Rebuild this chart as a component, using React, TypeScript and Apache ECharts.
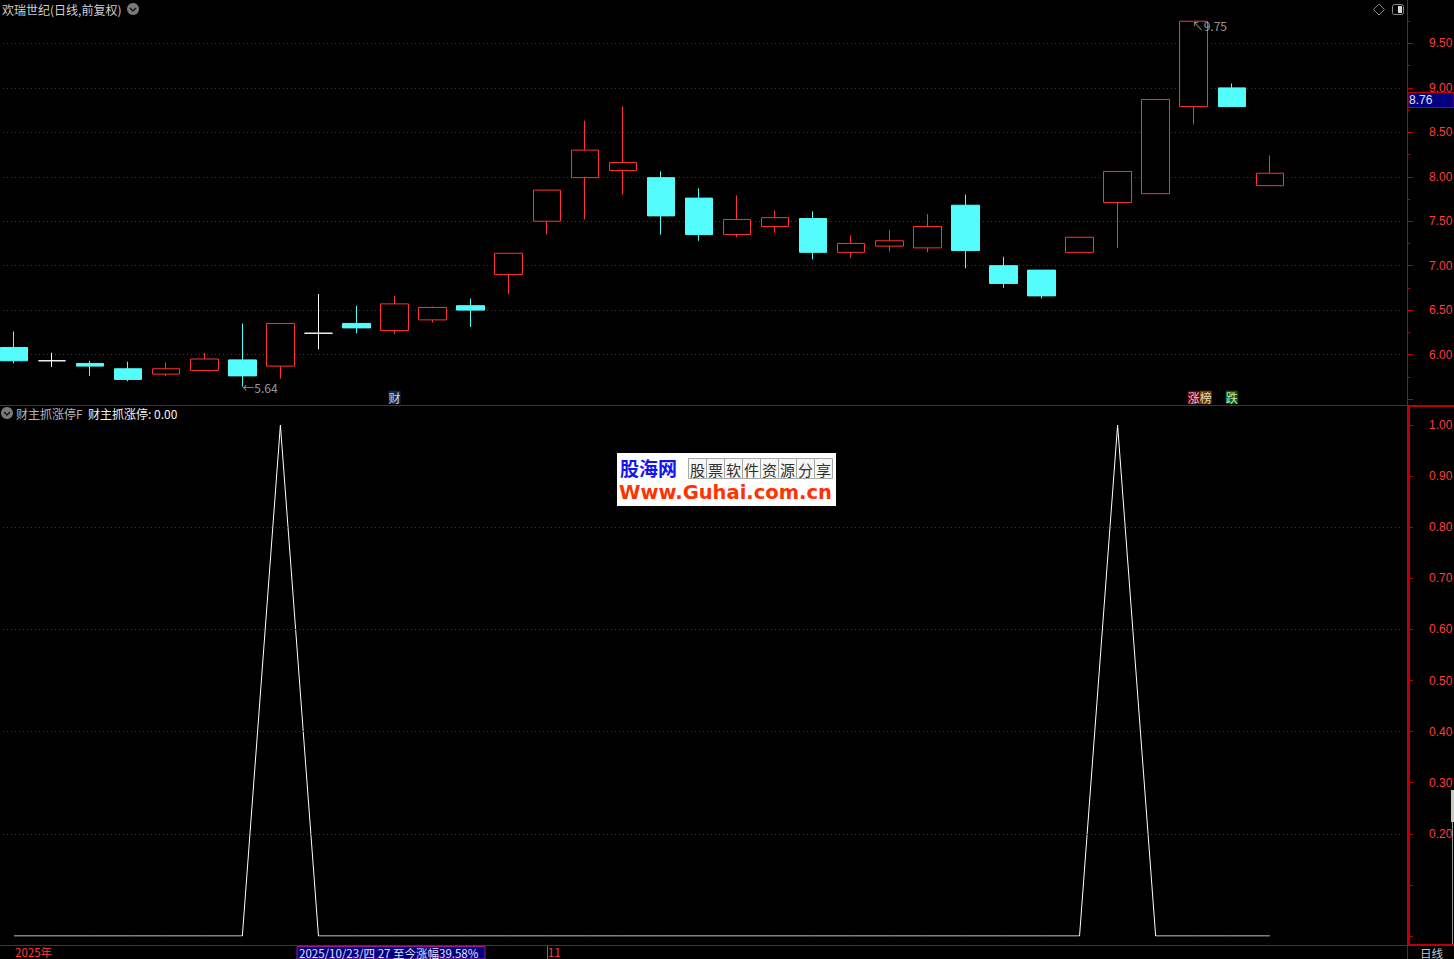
import React, { useEffect, useRef } from 'react';
import * as echarts from 'echarts';

// ---------- data ----------
const dates = [
  '2025-10-14', '2025-10-15', '2025-10-16', '2025-10-17', '2025-10-20', '2025-10-21', '2025-10-22',
  '2025-10-23', '2025-10-24', '2025-10-27', '2025-10-28', '2025-10-29', '2025-10-30', '2025-10-31',
  '2025-11-03', '2025-11-04', '2025-11-05', '2025-11-06', '2025-11-07', '2025-11-10', '2025-11-11',
  '2025-11-12', '2025-11-13', '2025-11-14', '2025-11-17', '2025-11-18', '2025-11-19', '2025-11-20',
  '2025-11-21', '2025-11-24', '2025-11-25', '2025-11-26', '2025-11-27', '2025-11-28',
];
const padSlots = ['pad-1', 'pad-2', 'pad-3'];
const opens = [6.08, 5.93, 5.90, 5.84, 5.78, 5.82, 5.94, 5.87, 6.24, 6.35, 6.27, 6.39, 6.55, 6.90, 7.50, 7.99, 8.07, 7.99, 7.76, 7.35, 7.44, 7.53, 7.15, 7.22, 7.20, 7.68, 7.00, 6.95, 7.15, 7.71, 7.81, 8.79, 9.00, 7.90];
const closes = [5.93, 5.93, 5.87, 5.72, 5.84, 5.95, 5.76, 6.35, 6.24, 6.30, 6.57, 6.53, 6.50, 7.14, 7.85, 8.30, 8.16, 7.56, 7.35, 7.52, 7.54, 7.15, 7.25, 7.28, 7.44, 7.17, 6.80, 6.66, 7.32, 8.06, 8.87, 9.75, 8.79, 8.04];
const lows = [5.90, 5.86, 5.76, 5.70, 5.76, 5.81, 5.64, 5.73, 6.06, 6.24, 6.23, 6.36, 6.31, 6.68, 7.35, 7.52, 7.80, 7.35, 7.28, 7.32, 7.37, 7.07, 7.09, 7.16, 7.15, 6.97, 6.75, 6.63, 7.15, 7.20, 7.81, 8.59, 8.79, 7.90];
const highs = [6.26, 6.02, 5.93, 5.92, 5.91, 6.02, 6.35, 6.35, 6.68, 6.55, 6.66, 6.54, 6.63, 7.14, 7.85, 8.63, 8.79, 8.06, 7.87, 7.79, 7.62, 7.61, 7.34, 7.40, 7.58, 7.80, 7.10, 6.95, 7.32, 8.06, 8.87, 9.75, 9.05, 8.24];
const dojiIdx = [1, 8];
const signalValues = [0, 0, 0, 0, 0, 0, 0, 1, 0, 0, 0, 0, 0, 0, 0, 0, 0, 0, 0, 0, 0, 0, 0, 0, 0, 0, 0, 0, 0, 1, 0, 0, 0, 0];
const signalGridLevels = [0.2, 0.4, 0.6, 0.8];
const markerIdx = [10, 31, 32];
const markerTexts = ['{cai|财}', '{zhang|涨}{bang|榜}', '{die|跌}'];
const extremeIdx = [6, 31];
const extremeText = ['←', '↖'];
const monthLabels: Record<number, string> = { 0: '2025年', 14: '11' };
const monthStartIdx = 14;
const crossPrice = '8.76';
const crossDateText = '2025/10/23/四 27 至今涨幅39.58%';
const upperTitle = '欢瑞世纪(日线,前复权)';
const lowerTitleA = '财主抓涨停F';
const lowerTitleB = '财主抓涨停: 0.00';
const logoChars = ['股', '票', '软', '件', '资', '源', '分', '享'];

// ---------- styles ----------
const CYAN = '#54fcfc';
const RED = '#ff3232';
const AXIS_RED = '#c00000';
const GRID_RED = '#c80000';
const LABEL_RED = '#ff3c3c';
const FONT = '"Noto Sans CJK SC", "Liberation Sans", sans-serif';
const NUMFONT = '"Liberation Sans", "Noto Sans CJK SC", sans-serif';
const MARKER_LEVEL = 5.52;

function buildOption() {
  const categories = [...dates, ...padSlots];
  const candleData = dates.map((_, i) => {
    const v = [opens[i], closes[i], lows[i], highs[i]];
    if (dojiIdx.includes(i)) {
      return { value: v, itemStyle: { color: '#ffffff', color0: '#ffffff', borderColor: '#ffffff', borderColor0: '#ffffff' } };
    }
    return v;
  });

  const markerData = markerIdx.map((idx, k) => ({
    value: [idx, MARKER_LEVEL],
    label: { formatter: markerTexts[k], offset: k === 1 ? [6, 0] : [0, 0] },
  }));

  const extremeData = extremeIdx.map((idx, k) => {
    const v = k === 0 ? lows[idx] : highs[idx];
    return {
      value: [idx, v],
      label: { formatter: extremeText[k] + v.toFixed(2), offset: k === 0 ? [0, 1] : [-2, 4] },
    };
  });

  const richBox = (bg: string) => ({
    backgroundColor: bg, color: '#ffffff', fontSize: 12, fontFamily: FONT, lineHeight: 13, height: 13, padding: [0, 0, 0, 0],
  });

  const graphic: any[] = [];
  // frame lines
  graphic.push({ type: 'line', shape: { x1: 0, y1: 405.5, x2: 1454, y2: 405.5 }, style: { stroke: AXIS_RED, lineWidth: 1 }, silent: true });
  graphic.push({ type: 'line', shape: { x1: 1407.5, y1: 0, x2: 1407.5, y2: 959 }, style: { stroke: AXIS_RED, lineWidth: 1 }, silent: true });
  graphic.push({ type: 'line', shape: { x1: 0, y1: 945.5, x2: 1454, y2: 945.5 }, style: { stroke: AXIS_RED, lineWidth: 1 }, silent: true });
  graphic.push({ type: 'rect', shape: { x: 1408, y: 405, width: 2, height: 541 }, style: { fill: AXIS_RED }, silent: true });
  graphic.push({ type: 'rect', shape: { x: 1408, y: 405, width: 46, height: 2 }, style: { fill: AXIS_RED }, silent: true });
  graphic.push({ type: 'rect', shape: { x: 1408, y: 944, width: 46, height: 2 }, style: { fill: AXIS_RED }, silent: true });
  // scrollbar
  graphic.push({ type: 'rect', shape: { x: 1451, y: 790, width: 3, height: 32 }, style: { fill: '#c8c8c0' }, silent: true });
  graphic.push({ type: 'line', shape: { x1: 1452.5, y1: 822, x2: 1452.5, y2: 944 }, style: { stroke: '#9a9a9a', lineWidth: 1 }, silent: true });

  // upper title
  graphic.push({ type: 'text', style: { text: upperTitle, x: 2, y: 9, verticalAlign: 'middle', fill: '#d0d0d0', font: `12px ${FONT}` }, silent: true });
  graphic.push({ type: 'circle', shape: { cx: 133, cy: 9, r: 6 }, style: { fill: '#7a7a7a' }, silent: true });
  graphic.push({ type: 'polyline', shape: { points: [[130, 8], [133, 11], [136, 8]] }, style: { stroke: '#1a1a1a', lineWidth: 1.5, fill: null }, silent: true });
  // top-right icons
  graphic.push({ type: 'polygon', shape: { points: [[1379, 4], [1384.5, 9.5], [1379, 15], [1373.5, 9.5]] }, style: { stroke: '#8a8a8a', fill: null, lineWidth: 1 }, silent: true });
  graphic.push({ type: 'rect', shape: { x: 1392.5, y: 4.5, width: 11, height: 10, r: 2 }, style: { stroke: '#8a8a8a', fill: null, lineWidth: 1 }, silent: true });
  graphic.push({ type: 'rect', shape: { x: 1398, y: 6, width: 4, height: 7 }, style: { fill: '#d8d8d8' }, silent: true });

  // lower title
  graphic.push({ type: 'circle', shape: { cx: 7, cy: 413, r: 6 }, style: { fill: '#7a7a7a' }, silent: true });
  graphic.push({ type: 'polyline', shape: { points: [[4, 412], [7, 415], [10, 412]] }, style: { stroke: '#1a1a1a', lineWidth: 1.5, fill: null }, silent: true });
  graphic.push({ type: 'text', style: { text: lowerTitleA, x: 16, y: 413, verticalAlign: 'middle', fill: '#b4b4b4', font: `12px ${FONT}` }, silent: true });
  graphic.push({ type: 'text', style: { text: lowerTitleB, x: 88, y: 413, verticalAlign: 'middle', fill: '#f0f0f0', font: `12px ${FONT}` }, silent: true });

  // crosshair price box
  graphic.push({ type: 'rect', shape: { x: 1408, y: 92.5, width: 46, height: 15 }, style: { fill: '#000080', stroke: AXIS_RED, lineWidth: 1 }, silent: true });
  graphic.push({ type: 'text', style: { text: crossPrice, x: 1409, y: 100, verticalAlign: 'middle', fill: '#e0e0ff', font: `12px ${NUMFONT}` }, silent: true });
  // crosshair date box
  graphic.push({ type: 'rect', shape: { x: 297, y: 946.5, width: 188, height: 12.5 }, style: { fill: '#000080', stroke: '#9a1a8a', lineWidth: 1 }, silent: true });
  graphic.push({ type: 'text', style: { text: crossDateText, x: 299, y: 952.5, verticalAlign: 'middle', lineHeight: 12, fill: '#e0e0ff', font: `11.5px ${FONT}` }, silent: true });
  // 日线
  graphic.push({ type: 'text', style: { text: '日线', x: 1420, y: 952.5, verticalAlign: 'middle', lineHeight: 12, fill: '#c8c8c8', font: `11.5px ${FONT}` }, silent: true });

  // logo watermark
  graphic.push({ type: 'rect', shape: { x: 617, y: 453, width: 219, height: 53 }, style: { fill: '#ffffff' }, silent: true });
  graphic.push({ type: 'text', style: { text: '股海网', x: 620, y: 467.5, verticalAlign: 'middle', lineHeight: 20, fill: '#1414f0', font: `bold 19px ${FONT}` }, silent: true });
  logoChars.forEach((ch, k) => {
    graphic.push({ type: 'rect', shape: { x: 688.5 + k * 18, y: 458.5, width: 18, height: 20 }, style: { fill: '#f6f6f6', stroke: '#a8a8a8', lineWidth: 1 }, silent: true });
    graphic.push({ type: 'text', style: { text: ch, x: 697.5 + k * 18, y: 469, align: 'center', verticalAlign: 'middle', fill: '#303030', font: `15px ${FONT}` }, silent: true });
  });
  graphic.push({ type: 'text', style: { text: 'Www.Guhai.com.cn', x: 619, y: 492, verticalAlign: 'middle', lineHeight: 19, fill: '#ff3300', font: `bold 19.5px "DejaVu Sans", sans-serif` }, silent: true });

  return {
    animation: false,
    backgroundColor: '#000000',
    grid: [
      { left: -5, width: 1408, top: -1, height: 400, outerBoundsMode: 'none', containLabel: false },
      { left: -5, width: 1408, top: 425, height: 511, outerBoundsMode: 'none', containLabel: false },
    ],
    xAxis: [
      { gridIndex: 0, type: 'category', data: categories, boundaryGap: true, show: false },
      {
        gridIndex: 1, type: 'category', data: categories, boundaryGap: true, offset: 9,
        axisLine: { show: false },
        axisTick: { show: false },
        axisLabel: {
          interval: 0, align: 'left', margin: 1, color: LABEL_RED, fontSize: 11.5, fontFamily: FONT,
          lineHeight: 12, padding: [0, 0, 0, 1],
          formatter: (_v: string, i: number) => monthLabels[i] ?? '',
        },
        splitLine: { show: false },
      },
    ],
    yAxis: [
      {
        gridIndex: 0, type: 'value', position: 'right', min: 5.5, max: 10, interval: 0.5, offset: 4,
        axisLine: { show: true, lineStyle: { color: AXIS_RED } },
        axisTick: { show: true, length: 6, lineStyle: { color: AXIS_RED } },
        minorTick: { show: true, splitNumber: 2, length: 3, lineStyle: { color: AXIS_RED } },
        axisLabel: {
          show: true, margin: 22, color: LABEL_RED, fontSize: 12, fontFamily: NUMFONT,
          showMinLabel: false, showMaxLabel: false, formatter: (v: number) => v.toFixed(2),
        },
        splitLine: { show: true, showMinLine: false, showMaxLine: false, lineStyle: { color: GRID_RED, type: [1, 3], width: 1 } },
      },
      {
        gridIndex: 1, type: 'value', position: 'right', min: 0, max: 1, interval: 0.1, offset: 6,
        axisLine: { show: true, lineStyle: { color: AXIS_RED, width: 2 } },
        axisTick: { show: true, length: 4, lineStyle: { color: AXIS_RED } },
        axisLabel: {
          show: true, margin: 20, color: LABEL_RED, fontSize: 12, fontFamily: NUMFONT,
          formatter: (v: number) => (v < 0.15 ? '' : v.toFixed(2)),
        },
        splitLine: { show: false },
      },
    ],
    series: [
      {
        type: 'candlestick', xAxisIndex: 0, yAxisIndex: 0, barWidth: 28, data: candleData,
        itemStyle: { color: '#000000', color0: CYAN, borderColor: RED, borderColor0: CYAN, borderWidth: 1 },
      },
      {
        type: 'scatter', xAxisIndex: 0, yAxisIndex: 0, symbolSize: 0, data: markerData, silent: true,
        label: {
          show: true, position: 'inside',
          rich: {
            cai: richBox('#0e3466'),
            zhang: richBox('#8a0000'),
            bang: richBox('#8a4a00'),
            die: richBox('#007a00'),
          },
        },
      },
      {
        type: 'scatter', xAxisIndex: 0, yAxisIndex: 0, symbolSize: 0, data: extremeData, silent: true,
        label: { show: true, position: 'right', distance: 0, color: '#c0c0c0', fontSize: 12, fontFamily: FONT },
      },
      {
        type: 'line', xAxisIndex: 1, yAxisIndex: 1, data: signalValues, symbol: 'none',
        lineStyle: { color: '#ffffff', width: 1 },
        markLine: {
          silent: true, symbol: 'none', label: { show: false },
          lineStyle: { color: GRID_RED, type: [1, 3], width: 1 },
          data: signalGridLevels.map((v) => ({ yAxis: v })),
        },
      },
    ],
    graphic,
  };
}

export default function App() {
  const ref = useRef<HTMLDivElement>(null);
  useEffect(() => {
    if (!ref.current) return;
    const chart = echarts.init(ref.current, null, { renderer: 'svg' });
    const option: any = buildOption();
    chart.setOption(option);
    // month-boundary tick under the x axis, placed through the axis scale
    const px = chart.convertToPixel({ xAxisIndex: 1 }, monthStartIdx) as number;
    if (typeof px === 'number' && isFinite(px)) {
      const x = Math.round(px) + 0.5;
      chart.setOption({
        graphic: [
          ...option.graphic,
          { type: 'line', shape: { x1: x, y1: 946, x2: x, y2: 959 }, style: { stroke: RED, lineWidth: 1 }, silent: true },
        ],
      });
    }
    return () => chart.dispose();
  }, []);
  return (
    <div
      ref={ref}
      style={{ position: 'fixed', left: 0, top: 0, width: 1454, height: 959, background: '#000' }}
    />
  );
}
